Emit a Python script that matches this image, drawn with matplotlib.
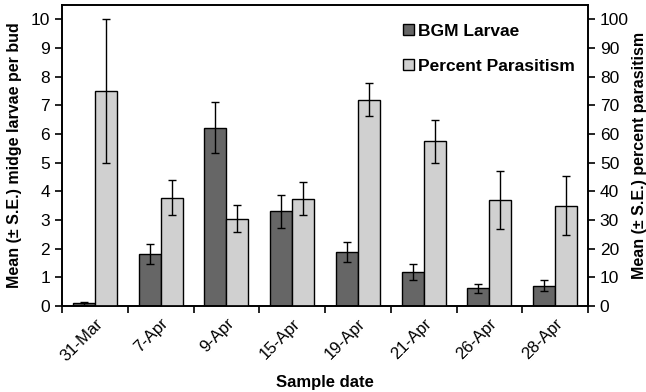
import numpy as np
import matplotlib.pyplot as plt

plt.rcParams.update({
    'font.family': ['Liberation Sans', 'DejaVu Sans'],
    'axes.unicode_minus': False,
})

DARK = '#666666'
LIGHT = '#D0D0D0'

# data
dates = ['31-Mar', '7-Apr', '9-Apr', '15-Apr', '19-Apr', '21-Apr', '26-Apr', '28-Apr']
larvae = [0.1, 1.8, 6.22, 3.3, 1.9, 1.18, 0.62, 0.7]
larvae_se = [0.05, 0.35, 0.88, 0.58, 0.35, 0.29, 0.16, 0.19]
parasitism = [75.0, 37.8, 30.5, 37.5, 72.0, 57.5, 37.0, 35.0]
parasitism_se = [25.0, 6.2, 4.6, 5.6, 5.8, 7.5, 10.0, 10.2]

x = np.arange(len(dates))
w = 0.335

fig = plt.figure(figsize=(6.46, 3.92), dpi=100)
ax = fig.add_axes([62/646, 1 - 306/392, 526/646, 301/392])
ax2 = ax.twinx()

err_kw = dict(ecolor='black', elinewidth=1.0, capsize=3, capthick=1.0)
b1 = ax.bar(x - w/2, larvae, w, yerr=larvae_se, color=DARK, edgecolor='black',
            linewidth=1.0, error_kw=err_kw, label='BGM Larvae', zorder=2)
b2 = ax2.bar(x + w/2, parasitism, w, yerr=parasitism_se, color=LIGHT, edgecolor='black',
             linewidth=1.0, error_kw=err_kw, label='Percent Parasitism', zorder=2)

ax.set_xlim(-0.5, len(dates) - 0.5)
ax.set_ylim(0, 10.5)
ax2.set_ylim(0, 105)
ax.set_yticks(range(0, 11))
ax2.set_yticks(range(0, 101, 10))

# category-boundary ticks (Excel style) with date labels centred
ax.set_xticks(np.arange(-0.5, len(dates), 1.0))
ax.set_xticklabels([])
ax.set_xticks(x, minor=True)
ax.set_xticklabels(dates, minor=True, rotation=45, ha='right', rotation_mode='anchor',
                   fontsize=12)
ax.tick_params(axis='x', which='minor', length=0, pad=7)
ax.tick_params(axis='x', which='major', direction='out', length=5, width=1.2)
ax.tick_params(axis='y', direction='out', length=5, width=1.2, labelsize=12.5)
ax2.tick_params(axis='y', direction='out', length=5, width=1.2, labelsize=12.5)

for a in (ax, ax2):
    for s in a.spines.values():
        s.set_linewidth(1.2)

ax.set_xlabel('Sample date', fontsize=12, fontweight='bold', labelpad=8)
ax.set_ylabel('Mean (± S.E.) midge larvae per bud', fontsize=11.5, fontweight='bold', labelpad=6)
ax2.set_ylabel('Mean (± S.E.) percent parasitism', fontsize=11.5, fontweight='bold', labelpad=2)

ax.legend([b1, b2], ['BGM Larvae', 'Percent Parasitism'], loc='upper right',
          bbox_to_anchor=(1.005, 0.99), frameon=False, prop={'weight': 'bold', 'size': 12.5},
          handlelength=0.6, handleheight=0.6, handletextpad=0.25, labelspacing=1.15)

fig.savefig('out.png', dpi=100)
plt.close(fig)
